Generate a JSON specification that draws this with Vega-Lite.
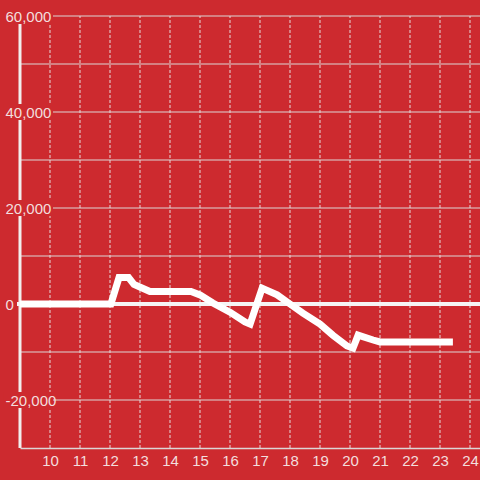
{
  "$schema": "https://vega.github.io/schema/vega-lite/v6.json",
  "width": 460,
  "height": 432,
  "autosize": {"type": "none"},
  "padding": {"left": 20, "top": 16, "right": 0, "bottom": 32},
  "background": "#cd2a2f",
  "config": {
    "view": {"stroke": null},
    "axis": {"labelFont": "Liberation Sans", "labelFontSize": 15, "labelColor": "#f3dede"}
  },
  "datasets": {
    "series": [
      {"h": 9, "v": 0},
      {"h": 12.03, "v": 0},
      {"h": 12.3, "v": 5500},
      {"h": 12.62, "v": 5500},
      {"h": 12.8, "v": 4100},
      {"h": 13.33, "v": 2600},
      {"h": 14.7, "v": 2600},
      {"h": 15.0, "v": 1900},
      {"h": 15.43, "v": 200},
      {"h": 16.0, "v": -1700},
      {"h": 16.5, "v": -3750},
      {"h": 16.67, "v": -4200},
      {"h": 17.07, "v": 3300},
      {"h": 17.57, "v": 1900},
      {"h": 18.0, "v": 0},
      {"h": 18.43, "v": -1900},
      {"h": 19.0, "v": -4200},
      {"h": 19.43, "v": -6500},
      {"h": 19.9, "v": -8750},
      {"h": 20.1, "v": -9200},
      {"h": 20.27, "v": -6500},
      {"h": 20.77, "v": -7500},
      {"h": 21.0, "v": -7900},
      {"h": 23.43, "v": -7900}
    ],
    "hgrid": [
      {"v": -20000}, {"v": -10000}, {"v": 10000}, {"v": 20000},
      {"v": 30000}, {"v": 40000}, {"v": 50000}, {"v": 60000}
    ],
    "vgrid": [
      {"h": 10}, {"h": 11}, {"h": 12}, {"h": 13}, {"h": 14}, {"h": 15}, {"h": 16},
      {"h": 17}, {"h": 18}, {"h": 19}, {"h": 20}, {"h": 21}, {"h": 22}, {"h": 23}, {"h": 24}
    ],
    "boxes": [{"v": -20000}, {"v": 20000}, {"v": 40000}, {"v": 60000}],
    "one": [{"k": 1}]
  },
  "layer": [
    {
      "data": {"name": "hgrid"},
      "mark": {"type": "rule", "color": "#dcd6d6", "strokeWidth": 1},
      "encoding": {
        "y": {"field": "v", "type": "quantitative",
          "scale": {"domain": [-30000, 60000], "nice": false, "zero": false},
          "axis": {"title": null, "grid": false, "values": [-20000, 0, 20000, 40000, 60000], "format": ",d", "labelExpr": "replace(datum.label, '\u2212', '-')", "ticks": false, "tickSize": 0, "labelAlign": "left", "labelPadding": 15, "labelBaseline": "middle", "labelFlush": false, "labelOverlap": false, "domain": false, "zindex": 1, "labelFont": "Liberation Sans", "labelFontSize": 15}},
        "x": {"datum": 9, "type": "quantitative",
          "scale": {"domain": [9, 24.3333], "nice": false, "zero": false},
          "axis": {"title": null, "grid": false, "values": [10, 11, 12, 13, 14, 15, 16, 17, 18, 19, 20, 21, 22, 23, 24], "ticks": false, "tickSize": 0, "labelPadding": 5, "labelFlush": false, "labelOverlap": false, "domain": true, "domainColor": "#dcd6d6", "domainWidth": 1.5, "zindex": 1, "labelFont": "Liberation Sans", "labelFontSize": 15}},
        "x2": {"datum": 24.3333}
      }
    },
    {
      "data": {"name": "vgrid"},
      "mark": {"type": "rule", "color": "#e4dcdc", "strokeWidth": 1, "strokeDash": [3, 2]},
      "encoding": {
        "x": {"field": "h", "type": "quantitative",
          "scale": {"domain": [9, 24.3333], "nice": false, "zero": false},
          "axis": {"title": null, "grid": false, "values": [10, 11, 12, 13, 14, 15, 16, 17, 18, 19, 20, 21, 22, 23, 24], "ticks": false, "tickSize": 0, "labelPadding": 5, "labelFlush": false, "labelOverlap": false, "domain": true, "domainColor": "#dcd6d6", "domainWidth": 1.5, "zindex": 1, "labelFont": "Liberation Sans", "labelFontSize": 15}},
        "y": {"datum": -30000, "type": "quantitative",
          "scale": {"domain": [-30000, 60000], "nice": false, "zero": false},
          "axis": {"title": null, "grid": false, "values": [-20000, 0, 20000, 40000, 60000], "format": ",d", "labelExpr": "replace(datum.label, '\u2212', '-')", "ticks": false, "tickSize": 0, "labelAlign": "left", "labelPadding": 15, "labelBaseline": "middle", "labelFlush": false, "labelOverlap": false, "domain": false, "zindex": 1, "labelFont": "Liberation Sans", "labelFontSize": 15}},
        "y2": {"datum": 60000}
      }
    },
    {
      "data": {"name": "one"},
      "mark": {"type": "rule", "color": "#f2eeee", "strokeWidth": 3},
      "encoding": {
        "x": {"datum": 9, "type": "quantitative",
          "scale": {"domain": [9, 24.3333], "nice": false, "zero": false},
          "axis": {"title": null, "grid": false, "values": [10, 11, 12, 13, 14, 15, 16, 17, 18, 19, 20, 21, 22, 23, 24], "ticks": false, "tickSize": 0, "labelPadding": 5, "labelFlush": false, "labelOverlap": false, "domain": true, "domainColor": "#dcd6d6", "domainWidth": 1.5, "zindex": 1, "labelFont": "Liberation Sans", "labelFontSize": 15}},
        "y": {"datum": -30000, "type": "quantitative",
          "scale": {"domain": [-30000, 60000], "nice": false, "zero": false},
          "axis": {"title": null, "grid": false, "values": [-20000, 0, 20000, 40000, 60000], "format": ",d", "labelExpr": "replace(datum.label, '\u2212', '-')", "ticks": false, "tickSize": 0, "labelAlign": "left", "labelPadding": 15, "labelBaseline": "middle", "labelFlush": false, "labelOverlap": false, "domain": false, "zindex": 1, "labelFont": "Liberation Sans", "labelFontSize": 15}},
        "y2": {"datum": 60000}
      }
    },
    {
      "data": {"name": "one"},
      "mark": {"type": "rule", "color": "#f6f4f4", "strokeWidth": 4},
      "encoding": {
        "x": {"datum": 8.9, "type": "quantitative",
          "scale": {"domain": [9, 24.3333], "nice": false, "zero": false},
          "axis": {"title": null, "grid": false, "values": [10, 11, 12, 13, 14, 15, 16, 17, 18, 19, 20, 21, 22, 23, 24], "ticks": false, "tickSize": 0, "labelPadding": 5, "labelFlush": false, "labelOverlap": false, "domain": true, "domainColor": "#dcd6d6", "domainWidth": 1.5, "zindex": 1, "labelFont": "Liberation Sans", "labelFontSize": 15}},
        "x2": {"datum": 24.3333},
        "y": {"datum": 0, "type": "quantitative",
          "scale": {"domain": [-30000, 60000], "nice": false, "zero": false},
          "axis": {"title": null, "grid": false, "values": [-20000, 0, 20000, 40000, 60000], "format": ",d", "labelExpr": "replace(datum.label, '\u2212', '-')", "ticks": false, "tickSize": 0, "labelAlign": "left", "labelPadding": 15, "labelBaseline": "middle", "labelFlush": false, "labelOverlap": false, "domain": false, "zindex": 1, "labelFont": "Liberation Sans", "labelFontSize": 15}}
      }
    },
    {
      "data": {"name": "boxes"},
      "mark": {"type": "rule", "color": "#cd2a2f", "strokeWidth": 16, "strokeCap": "butt"},
      "encoding": {
        "x": {"datum": 8.45, "type": "quantitative",
          "scale": {"domain": [9, 24.3333], "nice": false, "zero": false},
          "axis": {"title": null, "grid": false, "values": [10, 11, 12, 13, 14, 15, 16, 17, 18, 19, 20, 21, 22, 23, 24], "ticks": false, "tickSize": 0, "labelPadding": 5, "labelFlush": false, "labelOverlap": false, "domain": true, "domainColor": "#dcd6d6", "domainWidth": 1.5, "zindex": 1, "labelFont": "Liberation Sans", "labelFontSize": 15}},
        "x2": {"datum": 10.1},
        "y": {"field": "v", "type": "quantitative",
          "scale": {"domain": [-30000, 60000], "nice": false, "zero": false},
          "axis": {"title": null, "grid": false, "values": [-20000, 0, 20000, 40000, 60000], "format": ",d", "labelExpr": "replace(datum.label, '\u2212', '-')", "ticks": false, "tickSize": 0, "labelAlign": "left", "labelPadding": 15, "labelBaseline": "middle", "labelFlush": false, "labelOverlap": false, "domain": false, "zindex": 1, "labelFont": "Liberation Sans", "labelFontSize": 15}}
      }
    },
    {
      "data": {"name": "series"},
      "mark": {"type": "line", "color": "#ffffff", "strokeWidth": 7, "strokeJoin": "miter"},
      "encoding": {
        "x": {"field": "h", "type": "quantitative",
          "scale": {"domain": [9, 24.3333], "nice": false, "zero": false},
          "axis": {"title": null, "grid": false, "values": [10, 11, 12, 13, 14, 15, 16, 17, 18, 19, 20, 21, 22, 23, 24], "ticks": false, "tickSize": 0, "labelPadding": 5, "labelFlush": false, "labelOverlap": false, "domain": true, "domainColor": "#dcd6d6", "domainWidth": 1.5, "zindex": 1, "labelFont": "Liberation Sans", "labelFontSize": 15}},
        "y": {"field": "v", "type": "quantitative",
          "scale": {"domain": [-30000, 60000], "nice": false, "zero": false},
          "axis": {"title": null, "grid": false, "values": [-20000, 0, 20000, 40000, 60000], "format": ",d", "labelExpr": "replace(datum.label, '\u2212', '-')", "ticks": false, "tickSize": 0, "labelAlign": "left", "labelPadding": 15, "labelBaseline": "middle", "labelFlush": false, "labelOverlap": false, "domain": false, "zindex": 1, "labelFont": "Liberation Sans", "labelFontSize": 15}}
      }
    }
  ]
}
